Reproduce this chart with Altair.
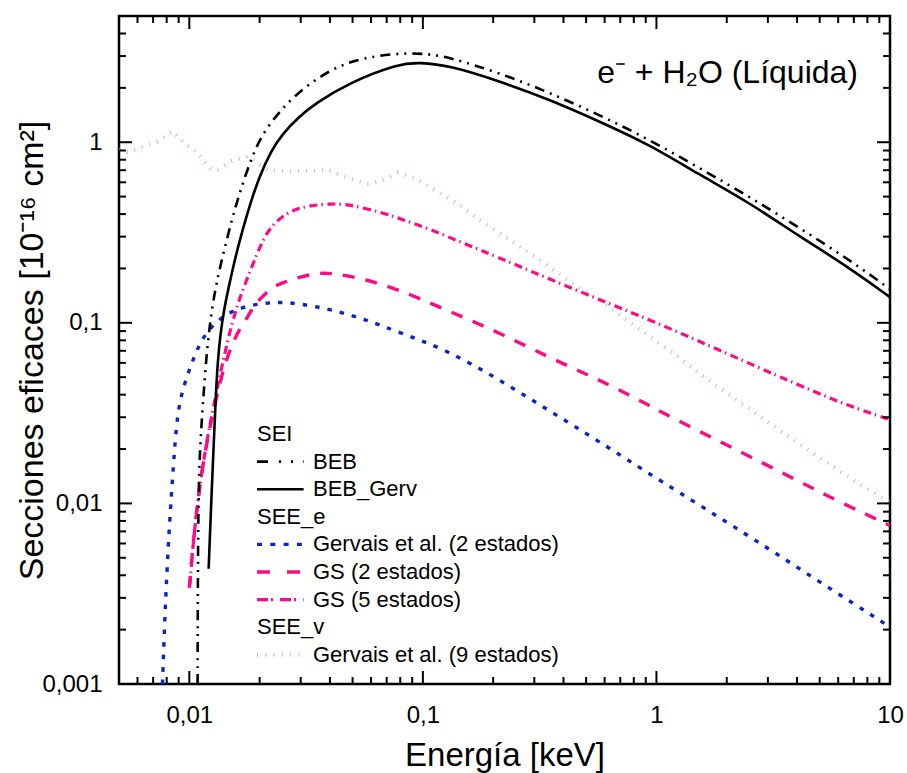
import altair as alt
import pandas as pd

FONT = "Liberation Sans"
W, H = 771, 668

# ---------------- data (energy in keV, cross section in 1e-16 cm^2) ----------------
beb_E = [0.01085, 0.01087, 0.01093, 0.01104, 0.0114, 0.01198, 0.01279, 0.01384, 0.01513,
         0.01637, 0.01897, 0.02156, 0.0276, 0.0397, 0.0550, 0.0849, 0.1097, 0.1297, 0.2123,
         0.3476, 0.567, 0.9316, 1.525, 2.496, 4.087, 6.689, 10.0]
beb_S = [0.00100, 0.00320, 0.00923, 0.01746, 0.0345, 0.0807, 0.147, 0.2297, 0.3636,
         0.5196, 0.911, 1.222, 1.792, 2.527, 2.947, 3.14, 3.06, 2.947, 2.424,
         1.885, 1.42, 1.035, 0.721, 0.500, 0.336, 0.2237, 0.1537]

bebg_E = [0.01210, 0.01233, 0.01255, 0.01280, 0.01301, 0.01324, 0.01357, 0.01412, 0.01483,
          0.01574, 0.01687, 0.01807, 0.01993, 0.02244, 0.02501, 0.02957, 0.03463, 0.04841,
          0.07925, 0.09652, 0.1297, 0.2123, 0.3476, 0.567, 0.9316, 1.525, 2.496, 4.087,
          6.689, 10.0]
bebg_S = [0.00435, 0.00812, 0.0142, 0.0256, 0.0416, 0.0610, 0.0860, 0.121, 0.163,
          0.230, 0.324, 0.440, 0.646, 0.900, 1.110, 1.388, 1.638, 2.142,
          2.729, 2.764, 2.660, 2.18, 1.724, 1.307, 0.971, 0.662, 0.4634, 0.3014,
          0.2022, 0.1388]

g2_E = [0.007676, 0.007816, 0.007948, 0.008212, 0.008375, 0.008541, 0.008711, 0.008885,
        0.009151, 0.009519, 0.0100, 0.010505, 0.01104, 0.01179, 0.0128, 0.01436, 0.01585,
        0.01807, 0.02095, 0.02428, 0.02957, 0.04094, 0.05724, 0.07925, 0.1259, 0.2123,
        0.3476, 0.569, 1.0, 2.496, 4.832, 10.0]
g2_S = [0.00100, 0.00192, 0.00333, 0.00743, 0.01089, 0.01597, 0.02254, 0.02984,
        0.03754, 0.04546, 0.0550, 0.06499, 0.0757, 0.08713, 0.0990, 0.1110, 0.1183,
        0.1245, 0.1285, 0.1302, 0.1278, 0.1183, 0.1041, 0.0883, 0.0710, 0.0485,
        0.0326, 0.0220, 0.01375, 0.00660, 0.00378, 0.00207]

gs2_E = [0.0100, 0.01033, 0.01068, 0.01104, 0.0114, 0.011824, 0.01218, 0.01301, 0.01389,
         0.01483, 0.01574, 0.01637, 0.01748, 0.01861, 0.01993, 0.02266, 0.02601, 0.02957,
         0.03602, 0.04259, 0.05724, 0.07925, 0.1297, 0.2123, 0.3476, 0.5311, 0.7878,
         1.059, 1.571, 2.423, 3.967, 6.062, 10.0]
gs2_S = [0.00341, 0.00554, 0.00844, 0.01191, 0.01597, 0.02061, 0.02561, 0.03754, 0.05365,
         0.06925, 0.08279, 0.09169, 0.1041, 0.1199, 0.1344, 0.1587, 0.1691, 0.1791,
         0.1897, 0.1873, 0.1735, 0.1527, 0.1158, 0.0883, 0.0642, 0.0503, 0.0392,
         0.0318, 0.0246, 0.0186, 0.0135, 0.0102, 0.00755]

gs5_E = [0.01005, 0.01033, 0.01068, 0.01104, 0.0114, 0.011824, 0.01218, 0.01301, 0.01367,
         0.01426, 0.01498, 0.01574, 0.01637, 0.01748, 0.01861, 0.01993, 0.02136, 0.02311,
         0.02501, 0.02815, 0.03264, 0.04094, 0.04841, 0.06704, 0.08186, 0.1066, 0.1477,
         0.2055, 0.3255, 0.626, 1.098, 3.56, 6.689, 10.0]
gs5_S = [0.00354, 0.00554, 0.00844, 0.01191, 0.01597, 0.02115, 0.02627, 0.04001, 0.0550,
         0.06925, 0.09169, 0.1139, 0.1344, 0.1691, 0.2074, 0.2577, 0.3119, 0.3544,
         0.3877, 0.4238, 0.4459, 0.4574, 0.4522, 0.4078, 0.373, 0.3313, 0.2770,
         0.2335, 0.1810, 0.1278, 0.0957, 0.0485, 0.0345, 0.0291]

g9_E = [0.005, 0.00544, 0.00642, 0.00732, 0.00848, 0.00952, 0.01085, 0.01238, 0.01322,
        0.0151, 0.01776, 0.0216, 0.0263, 0.0343, 0.0391, 0.0476, 0.058, 0.0662, 0.078,
        0.0917, 0.1079, 0.1175, 0.1431, 0.1743, 0.2123, 0.315, 0.453, 0.567, 0.813,
        1.29, 1.58, 2.10, 3.04, 4.63, 6.94, 10.0]
g9_S = [0.911, 0.88, 0.95, 1.01, 1.15, 0.99, 0.874, 0.706, 0.706,
        0.785, 0.836, 0.70, 0.691, 0.697, 0.706, 0.635, 0.59, 0.608, 0.677,
        0.635, 0.559, 0.525, 0.452, 0.373, 0.315, 0.224, 0.159, 0.1344, 0.0957,
        0.0625, 0.0506, 0.0392, 0.0279, 0.0191, 0.0135, 0.0101]

x_major = [0.01, 0.1, 1, 10]
x_minor = [0.005, 0.006, 0.007, 0.008, 0.009,
           0.02, 0.03, 0.04, 0.05, 0.06, 0.07, 0.08, 0.09,
           0.2, 0.3, 0.4, 0.5, 0.6, 0.7, 0.8, 0.9,
           2, 3, 4, 5, 6, 7, 8, 9]
y_major = [0.001, 0.01, 0.1, 1]
y_minor = [0.002, 0.003, 0.004, 0.005, 0.006, 0.007, 0.008, 0.009,
           0.02, 0.03, 0.04, 0.05, 0.06, 0.07, 0.08, 0.09,
           0.2, 0.3, 0.4, 0.5, 0.6, 0.7, 0.8, 0.9,
           2, 3, 4]

legend_labels = ["SEI", "BEB", "BEB_Gerv", "SEE_e", "Gervais et al. (2 estados)",
                 "GS (2 estados)", "GS (5 estados)", "SEE_v", "Gervais et al. (9 estados)"]
annotation = ["e⁻ + H₂O (Líquida)"]

# ---------------- styles ----------------
BLUE = "#0a24c8"
PINK = "#ff0a84"
GREEN = "#9fd69a"
styles = {
    "BEB": dict(color="black", width=2.6, dash=[10, 6, 2, 6, 2, 6], ldash=[11, 11, 2, 10, 2, 10, 2, 10]),
    "BEB_Gerv": dict(color="black", width=2.6, dash=None, ldash=None),
    "Gervais et al. (2 estados)": dict(color=BLUE, width=3.4, dash=[4.5, 8], ldash=[5, 8.3]),
    "GS (2 estados)": dict(color=PINK, width=3.4, dash=[12, 11], ldash=[13, 17]),
    "GS (5 estados)": dict(color=PINK, width=3.2, dash=[8, 4, 1.5, 4.5], ldash=[11, 3, 2, 7]),
    "Gervais et al. (9 estados)": dict(color=GREEN, width=4, dash=[1, 7], ldash=[1, 7.3]),
}
series = [
    ("Gervais et al. (9 estados)", g9_E, g9_S, "linear"),
    ("Gervais et al. (2 estados)", g2_E, g2_S, "basis"),
    ("GS (2 estados)", gs2_E, gs2_S, "basis"),
    ("GS (5 estados)", gs5_E, gs5_S, "basis"),
    ("BEB_Gerv", bebg_E, bebg_S, "basis"),
    ("BEB", beb_E, beb_S, "basis"),
]

xscale = alt.Scale(type="log", domain=[0.005, 10], nice=False)
yscale = alt.Scale(type="log", domain=[0.001, 5], nice=False)
label_expr = "replace(toString(datum.value), '.', ',')"

xaxis = alt.Axis(values=x_major, labelExpr=label_expr, title="Energía [keV]",
                 labelFontSize=24, labelPadding=19, labelFlush=False, labelOverlap=False,
                 titleFontSize=33, titleY=81, titleBaseline="alphabetic")
yaxis = alt.Axis(values=y_major, labelExpr=label_expr, title="Secciones eficaces [10⁻¹⁶ cm²]",
                 labelFontSize=24, labelPadding=17, labelFlush=False, labelOverlap=False,
                 titleFontSize=34, titleX=-77, titleY=H / 2, titleAngle=270,
                 titleBaseline="alphabetic", titleAlign="center")

layers = []
for name, E, S, interp in series:
    st = styles[name]
    df = pd.DataFrame({"E": E, "S": S})
    kw = dict(color=st["color"], strokeWidth=st["width"], interpolate=interp, clip=True)
    if st["dash"]:
        kw["strokeDash"] = st["dash"]
    layers.append(
        alt.Chart(df).mark_line(**kw).encode(
            x=alt.X("E:Q", scale=xscale, axis=xaxis),
            y=alt.Y("S:Q", scale=yscale, axis=yaxis),
        )
    )


def tick_layer(vals, channel, side, length):
    df = pd.DataFrame({"v": vals})
    base = alt.Chart(df).mark_rule(color="black", strokeWidth=2)
    if channel == "y":
        enc = dict(y=alt.Y("v:Q", scale=yscale, axis=yaxis))
        if side == "left":
            enc.update(x=alt.value(0), x2=alt.value(length))
        else:
            enc.update(x=alt.value(W), x2=alt.value(W - length))
    else:
        enc = dict(x=alt.X("v:Q", scale=xscale, axis=xaxis))
        if side == "bottom":
            enc.update(y=alt.value(H), y2=alt.value(H - length))
        else:
            enc.update(y=alt.value(0), y2=alt.value(length))
    return base.encode(**enc)


for vals, ln in ((y_major, 13), (y_minor, 7)):
    layers.append(tick_layer(vals, "y", "left", ln))
    layers.append(tick_layer(vals, "y", "right", ln))
for vals, ln in ((x_major, 13), (x_minor, 7)):
    layers.append(tick_layer(vals, "x", "bottom", ln))
    layers.append(tick_layer(vals, "x", "top", ln))

# ---------------- legend ----------------
LX0, LX1, LTX = 138, 184.6, 194
ROW0, DROW = 418, 27.6
for i, lab in enumerate(legend_labels):
    ry = ROW0 + i * DROW
    df = pd.DataFrame({"label": [lab]})
    if lab in styles:
        st = styles[lab]
        kw = dict(color=st["color"], strokeWidth=st["width"])
        if st["ldash"]:
            kw["strokeDash"] = st["ldash"]
        layers.append(alt.Chart(df).mark_rule(**kw).encode(
            x=alt.value(LX0), x2=alt.value(LX1), y=alt.value(ry)))
        tx = LTX
    else:
        tx = LX0
    layers.append(alt.Chart(df).mark_text(align="left", baseline="middle", fontSize=22,
                                          font=FONT, color="black").encode(
        x=alt.value(tx), y=alt.value(ry), text="label:N"))

# ---------------- annotation ----------------
layers.append(alt.Chart(pd.DataFrame({"t": annotation})).mark_text(
    align="right", baseline="alphabetic", fontSize=32, font=FONT, color="black").encode(
    x=alt.value(739), y=alt.value(67), text="t:N"))

chart = alt.layer(*layers).properties(
    width=W, height=H,
    padding={"left": 119, "top": 16, "right": 17, "bottom": 89},
    autosize=alt.AutoSizeParams(type="none"),
).configure_view(stroke="black", strokeWidth=2.5).configure_axis(
    domain=False, ticks=False, tickSize=0, grid=False,
    labelFont=FONT, titleFont=FONT, labelColor="black", titleColor="black",
    titleFontWeight="normal",
)

chart.save("out.html", embed_options={"renderer": "svg", "actions": False})
